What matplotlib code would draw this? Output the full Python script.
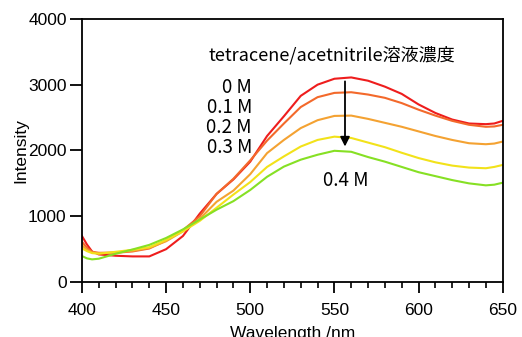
import matplotlib
matplotlib.use("Agg")
import matplotlib.pyplot as plt
from matplotlib.ticker import MultipleLocator

plt.rcParams['font.family'] = ['Liberation Sans', 'DejaVu Sans']

wavelength = [400, 403, 406, 410, 420, 430, 440, 450, 460, 470, 480, 490,
              500, 510, 520, 530, 540, 550, 560, 570, 580, 590, 600, 610,
              620, 630, 640, 645, 650]

conc_0 = [700, 570, 465, 420, 400, 390, 390, 500, 700, 1040, 1340, 1560,
          1830, 2220, 2520, 2830, 3000, 3090, 3110, 3060, 2970, 2860, 2700,
          2570, 2470, 2410, 2400, 2410, 2450]
conc_01 = [613, 520, 460, 445, 445, 465, 510, 630, 790, 1000, 1340, 1570,
           1850, 2150, 2410, 2660, 2810, 2875, 2885, 2850, 2800, 2720, 2620,
           2530, 2450, 2390, 2360, 2365, 2390]
conc_02 = [560, 490, 450, 440, 450, 475, 520, 620, 770, 960, 1220, 1390,
           1640, 1960, 2160, 2340, 2460, 2525, 2530, 2480, 2420, 2360, 2290,
           2220, 2160, 2110, 2095, 2105, 2135]
conc_03 = [512, 470, 440, 430, 460, 490, 530, 640, 770, 930, 1130, 1330,
           1520, 1750, 1910, 2060, 2160, 2210, 2190, 2120, 2050, 1965, 1885,
           1820, 1770, 1740, 1730, 1750, 1780]
conc_04 = [395, 360, 345, 355, 430, 495, 565, 670, 800, 950, 1100, 1230,
           1400, 1600, 1755, 1860, 1935, 1995, 1980, 1900, 1830, 1750, 1670,
           1610, 1550, 1500, 1470, 1480, 1510]

series = [conc_0, conc_01, conc_02, conc_03, conc_04]
labels = ['0 M', '0.1 M', '0.2 M', '0.3 M', '0.4 M']
colors = ['#ee1d1d', '#f3692b', '#f4a232', '#f2e21a', '#86e024']

fig = plt.figure(figsize=(5.22, 3.37), dpi=100)
ax = fig.add_axes([0.157, 0.163, 0.806, 0.781])

for y, c in zip(series, colors):
    ax.plot(wavelength, y, color=c, lw=1.5)

ax.set_xlim(400, 650)
ax.set_ylim(0, 4000)
ax.xaxis.set_major_locator(MultipleLocator(50))
ax.xaxis.set_minor_locator(MultipleLocator(10))
ax.yaxis.set_major_locator(MultipleLocator(1000))
ax.tick_params(which='major', width=1.3, labelsize=12.5)
ax.tick_params(axis='x', which='major', length=8, pad=7)
ax.tick_params(axis='y', which='major', length=9, pad=2)
ax.tick_params(which='minor', length=4.5, width=1.2)
for s in ax.spines.values():
    s.set_linewidth(1.3)

ax.set_xlabel('Wavelength /nm', fontsize=12.5, labelpad=6)
ax.set_ylabel('Intensity', fontsize=12.5, labelpad=0)

jp = ['Noto Sans CJK JP', 'DejaVu Sans']
ax.text(548.5, 3453, 'tetracene/acetnitrile溶液濃度', family=jp, fontsize=13,
        ha='center', va='center')
label_y = [2950, 2650, 2345, 2040]
for lab, ly in zip(labels[:4], label_y):
    ax.text(501, ly, lab, family=jp, fontsize=13.5, ha='right', va='center')
ax.text(556.5, 1550, labels[4], family=jp, fontsize=13.5, ha='center',
        va='center')

ax.annotate('', xy=(556.3, 2060), xytext=(556.3, 3050),
            arrowprops=dict(arrowstyle='-|>', color='black', lw=1.3,
                            mutation_scale=14, shrinkA=0, shrinkB=0))

fig.savefig('out.png', dpi=100)
